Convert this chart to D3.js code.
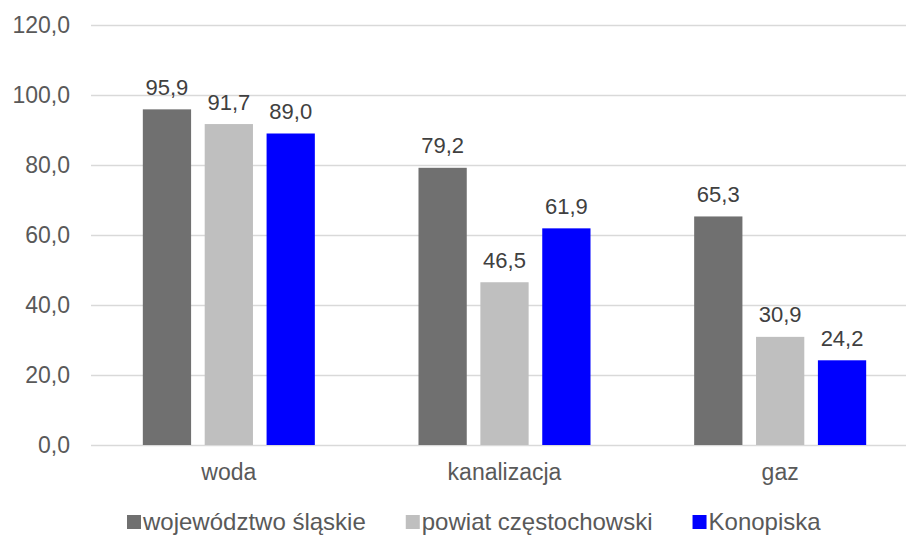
<!DOCTYPE html>
<html>
<head>
<meta charset="utf-8">
<script src="https://cdn.jsdelivr.net/npm/d3@7"></script>
<style>
  html, body { margin: 0; padding: 0; background: #fff; }
  svg { display: block; font-family: "Liberation Sans", Arial, sans-serif; }
</style>
</head>
<body>
<svg id="chart" width="906" height="535"></svg>
<script>
const categories = ["woda", "kanalizacja", "gaz"];
const seriesNames = ["województwo śląskie", "powiat częstochowski", "Konopiska"];
const seriesColors = ["#707070", "#bfbfbf", "#0000ff"];
const wojewodztwo = [95.9, 79.2, 65.3];
const powiat = [91.7, 46.5, 30.9];
const konopiska = [89.0, 61.9, 24.2];
const yTicks = [0, 20, 40, 60, 80, 100, 120];

const seriesValues = [wojewodztwo, powiat, konopiska];
const fmt = v => d3.format(".1f")(v).replace(".", ",");

const svg = d3.select("#chart");
const plotLeft = 91, plotRight = 918, plotTop = 25, plotBottom = 445;

const x0 = d3.scaleBand().domain(categories).range([plotLeft, plotRight]).paddingInner(0.376).paddingOuter(0.188);
const x1 = d3.scaleBand().domain(d3.range(seriesNames.length)).range([0, x0.bandwidth()]).paddingInner(0.22).paddingOuter(0);
const y = d3.scaleLinear().domain([0, 120]).range([plotBottom, plotTop]);

// gridlines
svg.append("g").selectAll("line").data(yTicks).join("line")
  .attr("x1", plotLeft).attr("x2", plotRight)
  .attr("y1", d => Math.round(y(d)) + 0.5).attr("y2", d => Math.round(y(d)) + 0.5)
  .attr("stroke", "#d9d9d9").attr("stroke-width", 1.3);

// y tick labels
svg.append("g").selectAll("text").data(yTicks).join("text")
  .attr("x", 70).attr("y", d => y(d)).attr("dy", "0.35em")
  .attr("text-anchor", "end").attr("fill", "#595959").attr("font-size", 23)
  .text(d => fmt(d));

// bars
const groups = svg.append("g").selectAll("g").data(categories).join("g")
  .attr("transform", d => `translate(${x0(d)},0)`);

groups.each(function(cat, ci) {
  const g = d3.select(this);
  const data = seriesValues.map((arr, si) => ({ si, v: arr[ci] }));
  g.selectAll("rect").data(data).join("rect")
    .attr("x", d => x1(d.si)).attr("width", x1.bandwidth())
    .attr("y", d => y(d.v)).attr("height", d => y(0) - y(d.v))
    .attr("fill", d => seriesColors[d.si]);
  g.selectAll("text").data(data).join("text")
    .attr("x", d => x1(d.si) + x1.bandwidth() / 2)
    .attr("y", d => y(d.v) - 14.5)
    .attr("text-anchor", "middle").attr("fill", "#404040").attr("font-size", 22)
    .text(d => fmt(d.v));
});

// category labels
svg.append("g").selectAll("text").data(categories).join("text")
  .attr("x", d => x0(d) + x0.bandwidth() / 2).attr("y", 480)
  .attr("text-anchor", "middle").attr("fill", "#595959").attr("font-size", 23)
  .text(d => d);

// legend
const legend = svg.append("g");
let lx = 127;
seriesNames.forEach((name, i) => {
  legend.append("rect").attr("x", lx).attr("y", 515).attr("width", 14).attr("height", 14)
    .attr("fill", seriesColors[i]);
  const t = legend.append("text").attr("x", lx + 16).attr("y", 529.5)
    .attr("fill", "#595959").attr("font-size", 24).text(name);
  lx += 16 + t.node().getComputedTextLength() + 40;
});
</script>
</body>
</html>
